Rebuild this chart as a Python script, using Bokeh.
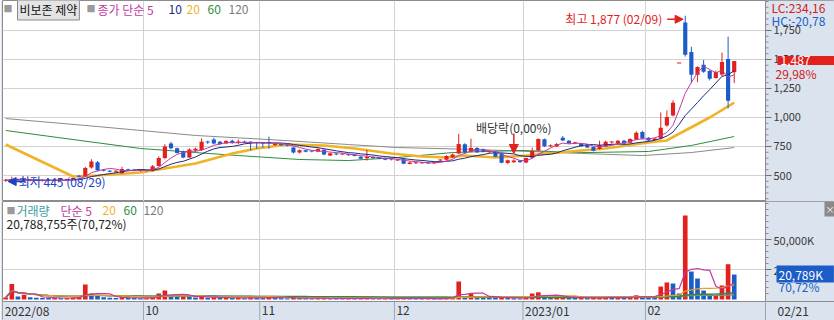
import numpy as np
import pandas as pd
from bokeh.plotting import figure
from bokeh.layouts import column
from bokeh.models import Range1d, FixedTicker, Label, Arrow, NormalHead, ColumnDataSource
from bokeh.embed import file_html
from bokeh.resources import INLINE

# ---------------- data ----------------
stock_name = "비보존 제약"
month_labels = ["2022/08", "10", "11", "12", "2023/01", "02"]
month_start = [0, 23, 42, 64, 85, 105]
last_date_label = "02/21"
price_ticks = [500, 750, 1000, 1250, 1500, 1750]
volume_ticks_k = [25000, 50000]

opens = [455, 455, 466, 462, 458, 460, 455, 458, 456, 460,
         462, 468, 498, 492, 568, 615, 545, 540, 532, 520,
         552, 548, 540, 541, 540, 582, 650, 775, 735, 710,
         655, 715, 720, 788, 810, 790, 775, 800, 785, 792,
         790, 785, 782, 785, 762, 772, 760, 742, 698, 718,
         708, 706, 722, 672, 690, 680, 686, 676, 662, 648,
         660, 655, 650, 638, 630, 640, 600, 605, 606, 612,
         606, 630, 636, 655, 690, 770, 705, 738, 728, 700,
         706, 690, 608, 615, 630, 612, 652, 715, 812, 752,
         750, 825, 800, 778, 775, 765, 745, 728, 750, 785,
         775, 800, 782, 810, 875, 826, 805, 818, 930, 1018,
         1466, 1819, 1565, 1368, 1455, 1400, 1340, 1370, 1505, 1390]
highs = [470, 490, 475, 472, 468, 470, 465, 468, 466, 470,
         472, 482, 505, 575, 640, 625, 555, 548, 545, 575,
         558, 555, 548, 550, 590, 665, 770, 790, 740, 715,
         735, 740, 820, 800, 825, 798, 805, 810, 810, 800,
         795, 790, 788, 835, 780, 778, 768, 748, 725, 722,
         715, 735, 725, 698, 695, 690, 690, 680, 666, 720,
         664, 658, 655, 645, 640, 645, 620, 615, 614, 615,
         615, 640, 675, 690, 860, 778, 818, 745, 732, 720,
         710, 695, 638, 640, 632, 655, 740, 820, 818, 768,
         780, 840, 805, 790, 780, 768, 750, 800, 800, 795,
         805, 808, 820, 880, 885, 830, 825, 1043, 1060, 1148,
         1466, 1877, 1610, 1440, 1495, 1410, 1405, 1560, 1697, 1487]
lows = [445, 450, 456, 452, 450, 452, 448, 450, 450, 452,
        455, 460, 485, 488, 560, 535, 535, 528, 525, 515,
        540, 538, 532, 535, 535, 578, 640, 725, 690, 648,
        650, 705, 712, 772, 770, 765, 770, 775, 770, 780,
        715, 730, 740, 730, 755, 755, 750, 690, 690, 700,
        700, 700, 675, 668, 675, 675, 672, 665, 640, 628,
        645, 640, 632, 630, 625, 598, 596, 600, 600, 600,
        600, 622, 630, 650, 685, 690, 700, 695, 700, 695,
        658, 606, 600, 610, 612, 605, 648, 710, 745, 745,
        745, 798, 772, 770, 748, 738, 708, 722, 745, 775,
        770, 770, 778, 805, 812, 795, 800, 810, 920, 1010,
        1466, 1525, 1296, 1305, 1385, 1320, 1335, 1355, 1078, 1296]
closes = [458, 468, 462, 458, 460, 455, 458, 456, 460, 462,
          465, 478, 490, 565, 620, 545, 540, 532, 538, 556,
          545, 540, 541, 538, 580, 650, 750, 735, 695, 655,
          725, 730, 790, 785, 775, 772, 798, 782, 788, 785,
          780, 778, 775, 778, 775, 760, 758, 698, 718, 705,
          706, 728, 680, 692, 680, 686, 675, 668, 645, 662,
          648, 645, 636, 637, 636, 602, 612, 610, 611, 605,
          607, 632, 668, 682, 772, 698, 738, 700, 705, 712,
          662, 610, 632, 630, 615, 650, 712, 815, 752, 756,
          772, 802, 778, 780, 752, 742, 714, 764, 790, 788,
          800, 776, 815, 868, 818, 802, 818, 912, 1005, 1128,
          1466, 1540, 1368, 1435, 1395, 1335, 1392, 1478, 1144, 1487]
volumes_k = [1600, 13000, 2500, 4000, 1800, 1500, 1300, 1200, 1400, 1100,
             1200, 1600, 2200, 12500, 5000, 3000, 1800, 1400, 1200, 2000,
             1500, 1200, 1000, 1100, 2200, 5000, 7500, 3500, 2600, 2800,
             2500, 1600, 2400, 1500, 1800, 1300, 1400, 1200, 1500, 1100,
             1600, 1300, 1200, 2600, 1400, 1100, 900, 1500, 1200, 1000,
             800, 1100, 1300, 1000, 900, 800, 900, 800, 1000, 1600,
             1000, 800, 900, 700, 800, 1400, 1000, 800, 700, 800,
             700, 900, 1800, 2000, 15000, 2000, 5000, 2200, 2000, 1600,
             1500, 1800, 1200, 1000, 900, 1400, 5000, 6000, 3000, 2000,
             2200, 2500, 1600, 1300, 1400, 1100, 1300, 1800, 2000, 1400,
             1600, 1400, 2000, 3500, 2600, 2000, 1800, 10800, 14200, 13300,
             5000, 70000, 23300, 17500, 7500, 3300, 3500, 11700, 29400, 20789]

# moving averages (knots)
ma20_idx = [0, 11, 15, 22, 31, 37, 41, 46, 52, 57, 63, 68, 72, 75, 80, 85, 94, 98, 105, 108, 111, 115, 119]
ma20_val = [767, 491, 500, 526, 603, 690, 733, 767, 759, 733, 690, 664, 655, 672, 655, 672, 716, 733, 784, 802, 888, 1000, 1129]
ma60_idx = [0, 11, 22, 31, 38, 48, 56, 64, 73, 84, 95, 105, 112, 119]
ma60_val = [888, 810, 733, 698, 672, 638, 629, 655, 698, 716, 698, 707, 759, 836]
ma120_idx = [0, 15, 31, 43, 56, 64, 77, 94, 104, 112, 119]
ma120_val = [991, 922, 845, 810, 767, 741, 724, 690, 672, 698, 741]

dividend_idx = 83

# ---------------- layout constants ----------------
W, H1, H2 = 834, 201, 119
FL = 2          # frame left (px)
AX = 765        # right axis line (px)
PXI = 6.122     # px per trading day
X0 = -0.523
XR = X0 + (W - FL) / PXI
P_BOT, P_TOP = 275.9, 2008.5
V_BOT, V_TOP = -17500, 81667
FONT = "Noto Sans CJK KR"
RED, BLUE = "#e3211c", "#1c5cc8"
C5, C10, C20, C60, C120 = "#c23a9e", "#1b2a80", "#f0b323", "#2f8c3c", "#8a8a8a"
BAND = "#dbe3ee"
GRID = "#d2d2d2"
AXC = "#8c8c8c"


def xd(px):
    return X0 + (px - FL) / PXI


def yp(py):
    return P_TOP - py * (P_TOP - P_BOT) / H1


def yv(py):
    return V_TOP - (py - H1) * (V_TOP - V_BOT) / H2


idx = np.arange(len(closes))
o, h, l, c = map(np.array, (opens, highs, lows, closes))
v = np.array(volumes_k, dtype=float)
cols = np.where(c >= o, RED, BLUE)
min_h = (P_TOP - P_BOT) / H1
body_bot = np.minimum(o, c)
body_top = np.maximum(np.maximum(o, c), body_bot + min_h)
ma5 = pd.Series(c).rolling(5, min_periods=1).mean()
ma10 = pd.Series(c).rolling(10, min_periods=1).mean()
vcols = [RED] + [RED if v[i] >= v[i - 1] else BLUE for i in range(1, len(v))]
vs = pd.Series(v)
vma = {n: vs.rolling(n, min_periods=1).mean() for n in (5, 20, 60, 120)}


def lab(p, x, y, text, color="#222222", size="12px", align="left", **kw):
    p.add_layout(Label(x=x, y=y, text=text, text_color=color, text_font=FONT,
                       text_font_size=size, text_align=align, text_baseline="middle", **kw))


def make_fig(height, yr):
    p = figure(width=W, height=height, x_range=Range1d(X0, XR), y_range=Range1d(*yr),
               x_axis_location=None, y_axis_location=None, output_backend="svg",
               toolbar_location=None, min_border_left=FL, min_border_right=0,
               min_border_top=0, min_border_bottom=0)
    p.background_fill_color = "white"
    p.border_fill_color = BAND
    p.outline_line_color = AXC
    p.xgrid.ticker = FixedTicker(ticks=[m - 0.5 for m in month_start[1:]])
    p.xgrid.grid_line_color = GRID
    p.ygrid.grid_line_color = GRID
    return p


def right_axis(p, ybot, ytop, ticks, minor, fmt):
    p.quad(left=xd(AX), right=XR, bottom=ybot, top=ytop, fill_color=BAND, line_color=None)
    p.segment(x0=xd(AX), y0=ybot, x1=xd(AX), y1=ytop, color=AXC, line_width=1)
    p.segment(x0=[xd(AX)] * len(minor), y0=minor, x1=[xd(AX + 3)] * len(minor), y1=minor,
              color=AXC, line_width=1)
    p.segment(x0=[xd(AX)] * len(ticks), y0=ticks, x1=[xd(AX + 6)] * len(ticks), y1=ticks,
              color="#6f6f6f", line_width=1)
    for t in ticks:
        lab(p, xd(AX + 8), t, fmt(t), color="#3a3a3a", size="11px")


# ---------------- price panel ----------------
p1 = make_fig(H1, (P_BOT, P_TOP))
p1.ygrid.ticker = FixedTicker(ticks=price_ticks)

p1.line(ma120_idx, ma120_val, color=C120, line_width=1)
p1.line(ma60_idx, ma60_val, color=C60, line_width=1)
p1.line(ma20_idx, ma20_val, color=C20, line_width=2.6)
src = ColumnDataSource(dict(x=idx, h=h, l=l, bt=body_top, bb=body_bot, col=cols))
p1.segment(x0="x", y0="h", x1="x", y1="l", color="col", line_width=1, source=src)
p1.vbar(x="x", top="bt", bottom="bb", width=0.68, fill_color="col", line_color=None, source=src)
p1.line(idx, ma10, color=C10, line_width=1)
p1.line(idx, ma5, color=C5, line_width=1)

right_axis(p1, P_BOT, P_TOP, price_ticks, list(range(300, 2001, 50)), lambda t: f"{t:,}")

# legend
lab(p1, xd(3), yp(8), "■", color="#9a9a9a", size="9px")
lab(p1, xd(17), yp(9), stock_name, color="#111111", size="12px",
    background_fill_color="#e4e4e4", border_line_color="#8a8a8a", padding=2)
lab(p1, xd(86), yp(8), "■", color="#9a9a9a", size="9px")
lab(p1, xd(97), yp(9), "종가 단순 5", color=C5)
lab(p1, xd(168), yp(9), "10", color=C10)
lab(p1, xd(186), yp(9), "20", color=C20)
lab(p1, xd(207), yp(9), "60", color=C60)
lab(p1, xd(228), yp(9), "120", color="#7a7a7a")

# high / low / dividend annotations
hi_i = int(np.argmax(h)); hi_v = h[hi_i]
lo_i = int(np.argmin(l)); lo_v = l[lo_i]
p1.add_layout(Label(x=hi_i, y=hi_v, x_offset=-23, y_offset=-3, text="최고 1,877 (02/09)",
                    text_color=RED, text_font=FONT, text_font_size="12px",
                    text_align="right", text_baseline="middle"))
p1.add_layout(Arrow(end=NormalHead(size=8, fill_color=RED, line_color=RED),
                    x_start=hi_i - 2.95, y_start=hi_v - 30, x_end=hi_i - 0.35, y_end=hi_v - 30,
                    line_color=RED, line_width=1.5))
p1.add_layout(Arrow(end=NormalHead(size=8, fill_color="#2040c0", line_color="#2040c0"),
                    x_start=lo_i + 3.2, y_start=lo_v + 3, x_end=lo_i + 0.4, y_end=lo_v + 3,
                    line_color="#2040c0", line_width=1.5))
p1.add_layout(Label(x=lo_i, y=lo_v + 3, x_offset=13, text="최저 445 (08/29)",
                    text_color="#2040c0", text_font=FONT, text_font_size="12px",
                    text_align="left", text_baseline="middle"))
p1.add_layout(Arrow(end=NormalHead(size=9, fill_color=RED, line_color=RED),
                    x_start=dividend_idx, y_start=yp(133), x_end=dividend_idx, y_end=yp(153),
                    line_color=RED, line_width=1.5))
lab(p1, dividend_idx, yp(127), "배당락(0,00%)", color="#333333", align="center")

# right side texts
lab(p1, xd(771), yp(7), "LC:234,16", color="#d02020")
lab(p1, xd(771), yp(19.5), "HC:-20,78", color="#2060c0")
lab(p1, xd(777), yp(60), "1,487", color="white", background_fill_color=RED,
    padding=dict(left=3, right=24, top=0, bottom=0))
lab(p1, xd(775), yp(73), "29,98%", color="#d02020")

# ---------------- volume panel ----------------
p2 = make_fig(H2, (V_BOT, V_TOP))
p2.ygrid.ticker = FixedTicker(ticks=volume_ticks_k)

p2.vbar(x=idx, top=v, bottom=0, width=0.76, fill_color=vcols, line_color=None)
p2.line(idx, vma[120], color=C120, line_width=1.2)
p2.line(idx, vma[60], color=C60, line_width=1.5)
p2.line(idx, vma[20], color="#e8a020", line_width=1.2)
p2.line(idx, vma[5], color=C5, line_width=1.2)

right_axis(p2, V_BOT, V_TOP, volume_ticks_k, list(range(5000, 80001, 5000)),
           lambda t: f"{t:,}K")

# date band
p2.quad(left=X0, right=XR, bottom=V_BOT, top=yv(301), fill_color=BAND, line_color=None)
p2.segment(x0=X0, y0=yv(301), x1=XR, y1=yv(301), color=AXC, line_width=1)
seps = [m - 0.5 for m in month_start[1:]] + [xd(AX)]
p2.segment(x0=seps, y0=[yv(301)] * len(seps), x1=seps, y1=[V_BOT] * len(seps),
           color="#9aa6b6", line_width=1)
for m, t in zip(month_start, month_labels):
    p2.add_layout(Label(x=m - 0.5, y=yv(310), x_offset=2, text=t, text_color="#333333",
                        text_font=FONT, text_font_size="12px", text_align="left",
                        text_baseline="middle"))
lab(p2, xd(777), yv(310), last_date_label, color="#333333")

# volume legend
lab(p2, xd(6), yv(210), "■", color="#9a9a9a", size="9px")
lab(p2, xd(16), yv(210), "거래량", color="#3d9ca3")
lab(p2, xd(60), yv(210), "단순 5", color=C5)
lab(p2, xd(102), yv(210), "20", color=C20)
lab(p2, xd(123), yv(210), "60", color=C60)
lab(p2, xd(143), yv(210), "120", color="#7a7a7a")
lab(p2, xd(6), yv(223), "20,788,755주(70,72%)", color="#222222")

# volume right side
lab(p2, xd(776), yv(273.5), "20,789K", color="white", background_fill_color=BLUE,
    padding=dict(left=2, right=11, top=0, bottom=0))
lab(p2, xd(778), yv(286), "70,72%", color="#2060c0")
lab(p2, xd(824), yv(208.5), "×", color="white", size="9px", background_fill_color="#8a8a8a",
    padding=1)

layout = column(p1, p2, spacing=0)
open("out.html", "w").write(file_html(layout, INLINE))
